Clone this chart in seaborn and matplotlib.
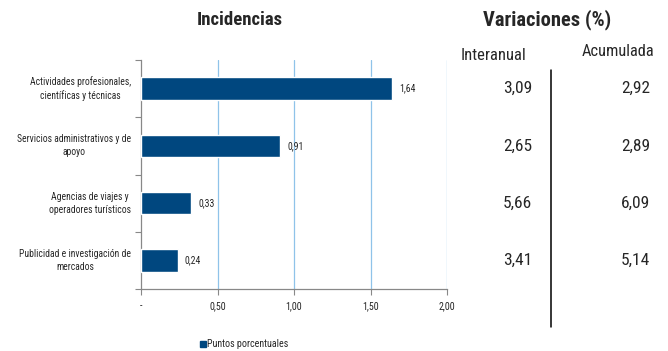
import matplotlib
matplotlib.use("Agg")
import matplotlib.pyplot as plt
from matplotlib import font_manager
from matplotlib.lines import Line2D
from matplotlib.transforms import offset_copy
import seaborn as sns
import pandas as pd

categories = [
    "Actividades profesionales,\ncientíficas y técnicas",
    "Servicios administrativos y de\napoyo",
    "Agencias de viajes y\noperadores turísticos",
    "Publicidad e investigación de\nmercados",
]
incidencias = [1.64, 0.91, 0.33, 0.24]
interanual = ["3,09", "2,65", "5,66", "3,41"]
acumulada = ["2,92", "2,89", "6,09", "5,14"]
x_ticks = [0, 0.5, 1.0, 1.5, 2.0]
x_tick_labels = ["-", "0,50", "1,00", "1,50", "2,00"]
series_name = "Puntos porcentuales"

sns.set_theme(style="white")

def pick(names):
    for n in names:
        try:
            font_manager.findfont(n, fallback_to_default=False)
            return n
        except Exception:
            pass
    return "DejaVu Sans"

narrow = pick(["Liberation Sans Narrow", "Roboto Condensed", "Liberation Sans"])
plt.rcParams["font.family"] = [narrow, "DejaVu Sans"]

BAR = "#00477f"
W, H = 668, 351
fig = plt.figure(figsize=(W / 100, H / 100), dpi=100)
ax = fig.add_axes([141 / W, 1 - 289 / H, (447 - 141) / W, (289 - 60) / H])

df = pd.DataFrame({"cat": categories, "val": incidencias})
sns.barplot(data=df, x="val", y="cat", orient="h", color=BAR, width=0.39,
            saturation=1, ax=ax, zorder=3)

ax.set_xlim(0, 2.0)
ax.set_ylim(3.5, -0.5)
ax.set_xlabel("")
ax.set_ylabel("")

for x in x_ticks[1:]:
    ax.axvline(x, color="#8fc3e9", lw=0.9, zorder=1)

ax.set_xticks(x_ticks)
ax.set_xticklabels(x_tick_labels, fontsize=7.2)

# Category labels: right-aligned block, centred lines
ax.set_yticks([])
lab_tr = offset_copy(ax.get_yaxis_transform(), fig=fig, x=-10, y=0, units="dots")
for i, cat in enumerate(categories):
    ax.text(0, i, cat, transform=lab_tr, ha="right", va="center",
            multialignment="center", fontsize=6.9, linespacing=1.35)

ax.set_yticks([-0.5, 0.5, 1.5, 2.5, 3.5], minor=True)
ax.tick_params(axis="y", which="minor", length=4, width=0.8, color="#888888", direction="out", left=True)
ax.tick_params(axis="x", length=4, width=0.8, color="#888888", direction="out", bottom=True, pad=5)

for s in ["top", "right"]:
    ax.spines[s].set_visible(False)
for s in ["left", "bottom"]:
    ax.spines[s].set_color("#888888")
    ax.spines[s].set_linewidth(0.9)

for c in ax.containers:
    ax.bar_label(c, labels=[f"{v:.2f}".replace(".", ",") for v in incidencias],
                 padding=5, fontsize=7.0)

# Headings
fig.text(240 / W, 1 - 20 / H, "Incidencias", ha="center", va="center",
         fontsize=13.5, fontweight="bold")
fig.text(547 / W, 1 - 20 / H, "Variaciones (%)", ha="center", va="center",
         fontsize=14.8, fontweight="bold")
fig.text(494 / W, 1 - 55 / H, "Interanual", ha="center", va="center", fontsize=12)
fig.text(618 / W, 1 - 52 / H, "Acumulada", ha="center", va="center", fontsize=11.8)

# Variation columns aligned with the bar rows
for i, (a, b) in enumerate(zip(interanual, acumulada)):
    y = ax.transData.transform((0, i))[1] / fig.dpi / fig.get_figheight()
    fig.text(532 / W, y, a, ha="right", va="center", fontsize=12.5)
    fig.text(650 / W, y, b, ha="right", va="center", fontsize=12.5)

fig.add_artist(Line2D([551 / W, 551 / W], [1 - 70 / H, 1 - 327 / H],
                      color="black", lw=1.1, transform=fig.transFigure))

# Legend
fig.patches.append(plt.Rectangle((200 / W, 1 - 347 / H), 6 / W, 6 / H,
                                 color=BAR, transform=fig.transFigure, figure=fig))
fig.text(207 / W, 1 - 344 / H, series_name, ha="left", va="center", fontsize=7.2)

fig.savefig("out.png", dpi=100)
